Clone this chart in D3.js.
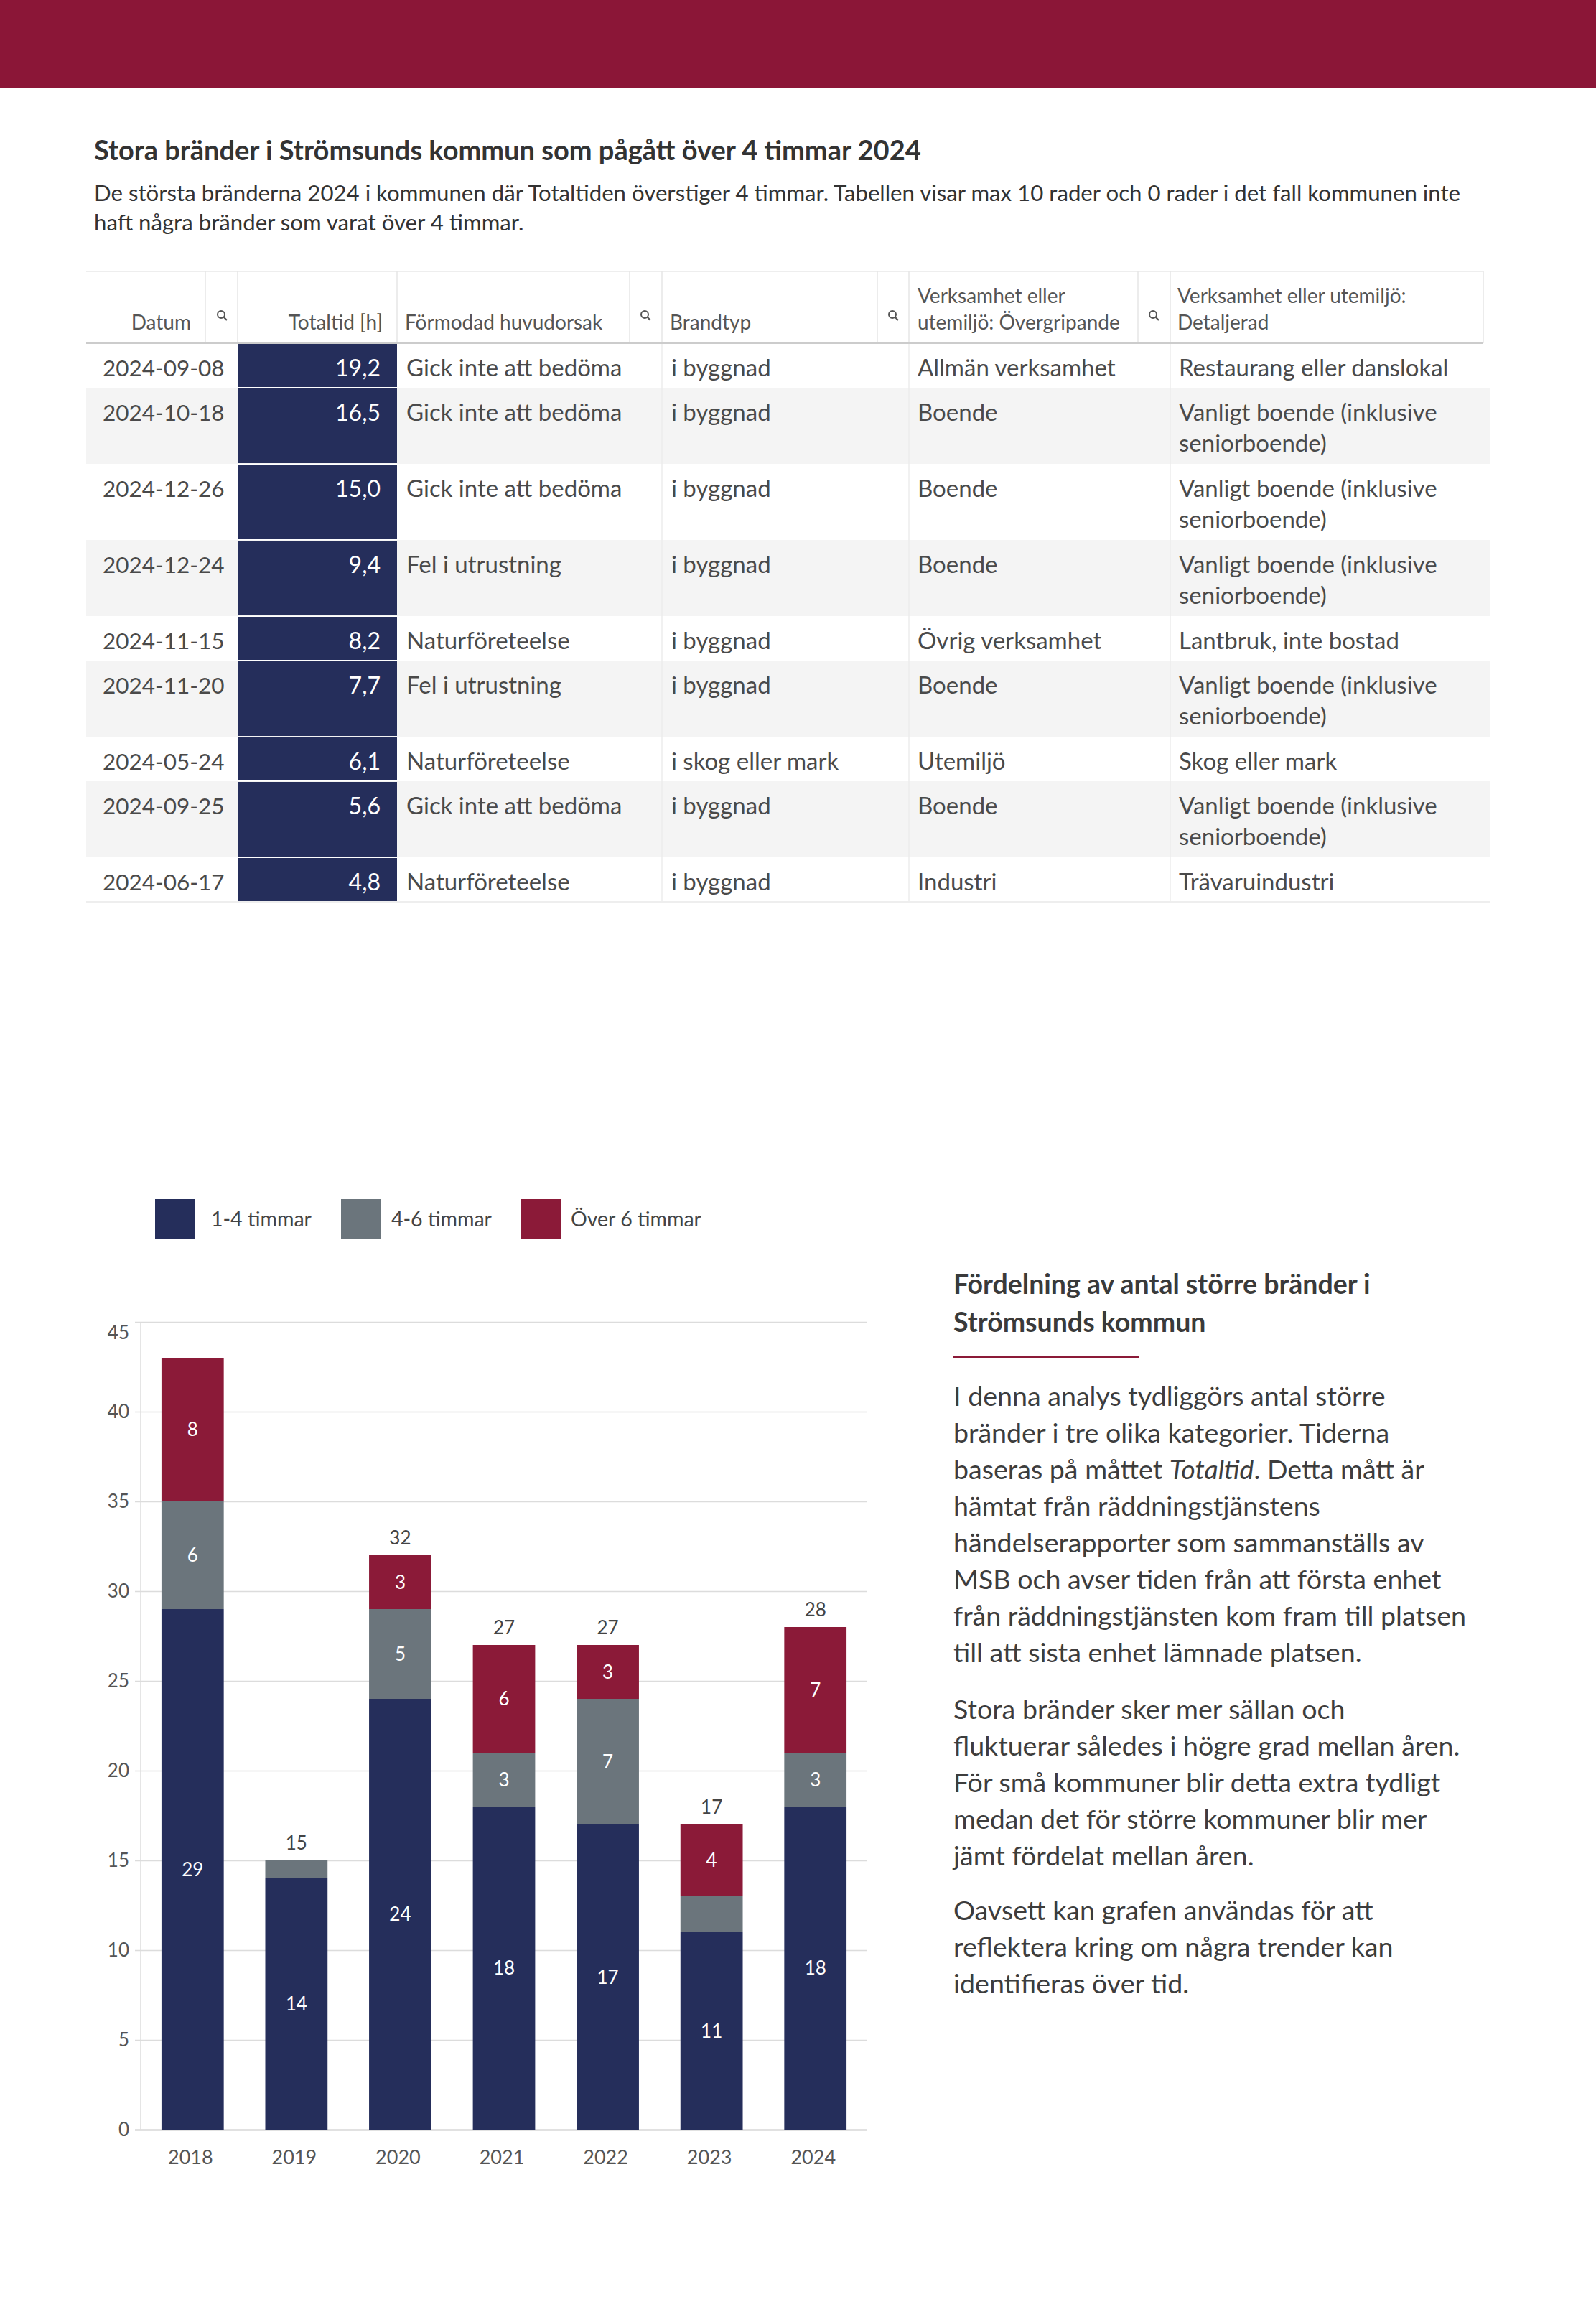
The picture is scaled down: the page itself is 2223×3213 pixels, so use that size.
<!DOCTYPE html>
<html>
<head>
    <meta charset="UTF-8">
    <script src="https://cdn.jsdelivr.net/npm/d3@7"></script>
    <title>Stora bränder i Strömsunds kommun</title>
    <style>
        body { margin: 0; background: #fff; }
        svg text { font-family: Lato, "Open Sans", sans-serif; }
    </style>
</head>
<body>
    <div id="Page"></div>
<script>
    // ---- table data ----
    const datum = ["2024-09-08", "2024-10-18", "2024-12-26", "2024-12-24", "2024-11-15", "2024-11-20", "2024-05-24", "2024-09-25", "2024-06-17"]
    const totaltid = [19.2, 16.5, 15.0, 9.4, 8.2, 7.7, 6.1, 5.6, 4.8]
    const orsak = ["Gick inte att bedöma", "Gick inte att bedöma", "Gick inte att bedöma", "Fel i utrustning", "Naturföreteelse", "Fel i utrustning", "Naturföreteelse", "Gick inte att bedöma", "Naturföreteelse"]
    const brandtyp = ["i byggnad", "i byggnad", "i byggnad", "i byggnad", "i byggnad", "i byggnad", "i skog eller mark", "i byggnad", "i byggnad"]
    const overgripande = ["Allmän verksamhet", "Boende", "Boende", "Boende", "Övrig verksamhet", "Boende", "Utemiljö", "Boende", "Industri"]
    const detaljerad = ["Restaurang eller danslokal", "Vanligt boende (inklusive seniorboende)", "Vanligt boende (inklusive seniorboende)",
        "Vanligt boende (inklusive seniorboende)", "Lantbruk, inte bostad", "Vanligt boende (inklusive seniorboende)",
        "Skog eller mark", "Vanligt boende (inklusive seniorboende)", "Trävaruindustri"]

    // ---- chart data ----
    const years = ["2018", "2019", "2020", "2021", "2022", "2023", "2024"]
    const series = ["1-4 timmar", "4-6 timmar", "Över 6 timmar"]
    const h1to4 = [29, 14, 24, 18, 17, 11, 18]
    const h4to6 = [6, 1, 5, 3, 7, 2, 3]
    const hOver6 = [8, 0, 3, 6, 3, 4, 7]
    const yTicks = [0, 5, 10, 15, 20, 25, 30, 35, 40, 45]

    // ---- texts ----
    const title = "Stora bränder i Strömsunds kommun som pågått över 4 timmar 2024"
    const subtitle = ["De största bränderna 2024 i kommunen där Totaltiden överstiger 4 timmar. Tabellen visar max 10 rader och 0 rader i det fall kommunen inte",
        "haft några bränder som varat över 4 timmar."]
    const heading = ["Fördelning av antal större bränder i", "Strömsunds kommun"]
    const paragraphs = [
        ["I denna analys tydliggörs antal större", "bränder i tre olika kategorier. Tiderna", "baseras på måttet *Totaltid*. Detta mått är",
            "hämtat från räddningstjänstens", "händelserapporter som sammanställs av", "MSB och avser tiden från att första enhet",
            "från räddningstjänsten kom fram till platsen", "till att sista enhet lämnade platsen."],
        ["Stora bränder sker mer sällan och", "fluktuerar således i högre grad mellan åren.", "För små kommuner blir detta extra tydligt",
            "medan det för större kommuner blir mer", "jämt fördelat mellan åren."],
        ["Oavsett kan grafen användas för att", "reflektera kring om några trender kan", "identifieras över tid."]
    ]

    const width = 2223
    const height = 3213
    const navy = "#252e5b", grey = "#6b757c", wine = "#8b1a38"

    const svg = d3.select("#Page")
        .append("svg")
        .attr("width", width)
        .attr("height", height)

    svg.append("rect").attr("width", width).attr("height", height).attr("fill", "#fff")
    svg.append("rect").attr("width", width).attr("height", 122).attr("fill", "#8b1637")

    // hidden text used to measure words when wrapping cells
    const measurer = svg.append("text").attr("visibility", "hidden")
    const textWidth = (str, size) => {
        measurer.attr("font-size", size).text(str)
        return measurer.node().getComputedTextLength()
    }
    const wrap = (str, size, maxW) => {
        let lines = [], cur = ""
        str.split(" ").forEach(w => {
            const t = cur ? cur + " " + w : w
            if (cur && textWidth(t, size) > maxW) { lines.push(cur); cur = w } else cur = t
        })
        lines.push(cur)
        return lines
    }

    // ---- title ----
    svg.append("text")
        .attr("x", 131).attr("y", 223)
        .attr("font-size", 38).attr("font-weight", 700).attr("fill", "#333")
        .text(title)
    svg.selectAll("text.sub")
        .data(subtitle)
        .enter()
        .append("text")
        .attr("class", "sub")
        .attr("x", 131).attr("y", (d, i) => 280 + i * 41)
        .attr("font-size", 31.2).attr("fill", "#333")
        .text(d => d)

    // ---- table ----
    const bodyFont = 33, headFont = 28
    const headTop = 378, headBottom = 478
    const comma = v => v.toFixed(1).replace(".", ",")
    const columns = [
        { values: datum, x0: 120, x1: 331, tx: 143, anchor: "start", size: 31.5, head: ["Datum"], hx: 266, hAnchor: "end", icon: 308 },
        { values: totaltid.map(comma), x0: 331, x1: 553, tx: 530, anchor: "end", size: 32, head: ["Totaltid [h]"], hx: 533, hAnchor: "end", fill: navy, color: "#fff" },
        { values: orsak, x0: 553, x1: 922, tx: 566, anchor: "start", head: ["Förmodad huvudorsak"], hx: 564, hAnchor: "start", icon: 898 },
        { values: brandtyp, x0: 922, x1: 1266, tx: 935, anchor: "start", head: ["Brandtyp"], hx: 933, hAnchor: "start", icon: 1243 },
        { values: overgripande, x0: 1266, x1: 1630, tx: 1278, anchor: "start", head: ["Verksamhet eller", "utemiljö: Övergripande"], hx: 1278, hAnchor: "start", icon: 1606 },
        { values: detaljerad, x0: 1630, x1: 2066, tx: 1642, anchor: "start", head: ["Verksamhet eller utemiljö:", "Detaljerad"], hx: 1640, hAnchor: "start" }
    ]

    const table = svg.append("g")

    // header
    table.append("line").attr("x1", 120).attr("x2", 2066).attr("y1", headTop).attr("y2", headTop)
        .attr("stroke", "#eeeeee").attr("stroke-width", 2)
    const headSeps = [286, 331, 553, 877, 922, 1222, 1266, 1585, 1630, 2066]
    table.selectAll("line.hsep")
        .data(headSeps)
        .enter()
        .append("line")
        .attr("x1", d => d).attr("x2", d => d)
        .attr("y1", headTop).attr("y2", headBottom)
        .attr("stroke", "#e6e6e6").attr("stroke-width", 1.5)

    columns.forEach(col => {
        col.head.forEach((t, i) => {
            table.append("text")
                .attr("x", col.hx)
                .attr("y", 459 - (col.head.length - 1 - i) * 37)
                .attr("text-anchor", col.hAnchor)
                .attr("font-size", headFont).attr("fill", "#555")
                .text(t)
        })
        if (col.icon) {
            const ic = table.append("g").attr("transform", `translate(${col.icon},438)`)
            ic.append("circle").attr("r", 5).attr("fill", "none").attr("stroke", "#555").attr("stroke-width", 2)
            ic.append("line").attr("x1", 3.5).attr("y1", 3.5).attr("x2", 8).attr("y2", 8).attr("stroke", "#555").attr("stroke-width", 2.2)
        }
    })

    // rows: height follows the number of wrapped lines
    const rows = datum.map((d, i) => {
        const cells = columns.map(col => col.anchor === "start"
            ? wrap(col.values[i], col.size || bodyFont, col.x1 - col.tx - 12)
            : [col.values[i]])
        const lines = d3.max(cells, c => c.length)
        return { cells, h: 62 + (lines - 1) * 44 }
    })
    let rowTop = headBottom
    rows.forEach(r => { r.top = rowTop; rowTop += r.h })
    const tableBottom = rowTop

    const rowG = table.selectAll("g.row")
        .data(rows)
        .enter()
        .append("g")
        .attr("class", "row")
        .attr("transform", r => `translate(0,${r.top})`)

    rowG.append("rect")
        .attr("x", 120).attr("width", 2076 - 120)
        .attr("height", r => r.h)
        .attr("fill", (r, i) => i % 2 ? "#f4f4f4" : "#fff")

    rowG.append("rect")
        .attr("x", columns[1].x0).attr("width", columns[1].x1 - columns[1].x0)
        .attr("y", 1).attr("height", r => r.h - 2)
        .attr("fill", navy)

    rowG.each(function (r) {
        const g = d3.select(this)
        columns.forEach((col, ci) => {
            r.cells[ci].forEach((t, li) => {
                g.append("text")
                    .attr("x", col.tx)
                    .attr("y", 46 + li * 43)
                    .attr("text-anchor", col.anchor)
                    .attr("font-size", col.size || bodyFont)
                    .attr("fill", col.color || "#4a4a4a")
                    .text(t)
            })
        })
    })

    table.selectAll("line.bsep")
        .data([922, 1266, 1630])
        .enter()
        .append("line")
        .attr("x1", d => d).attr("x2", d => d)
        .attr("y1", headBottom).attr("y2", tableBottom)
        .attr("stroke", "#ececec").attr("stroke-width", 1.5)
    table.append("line").attr("x1", 120).attr("x2", 2076).attr("y1", tableBottom).attr("y2", tableBottom)
        .attr("stroke", "#eeeeee").attr("stroke-width", 2)
    table.append("line").attr("x1", 120).attr("x2", 2066).attr("y1", headBottom).attr("y2", headBottom)
        .attr("stroke", "#cccccc").attr("stroke-width", 2)

    // ---- stacked bar chart ----
    const plotLeft = 196, plotRight = 1208
    const x = d3.scaleBand()
        .domain(years)
        .range([plotLeft, plotRight])
        .paddingInner(0.4)
        .paddingOuter(0.2)
    const y = d3.scaleLinear()
        .domain([0, 45])
        .range([2966, 1841])
    const color = d3.scaleOrdinal()
        .domain(series)
        .range([navy, grey, wine])

    const stackRows = years.map((yr, i) => ({ year: yr, [series[0]]: h1to4[i], [series[1]]: h4to6[i], [series[2]]: hOver6[i] }))
    const stacked = d3.stack().keys(series)(stackRows)

    const chart = svg.append("g")

    const yAxis = chart.append("g")
        .attr("transform", `translate(${plotRight},0)`)
        .call(d3.axisLeft(y).tickValues(yTicks).tickSize(plotRight - 188).tickPadding(8))
    yAxis.select(".domain").remove()
    yAxis.selectAll(".tick line").attr("stroke", "#dcdcdc").attr("stroke-width", 1.5)
    yAxis.selectAll(".tick").filter(d => d === 0).select("line").attr("stroke", "#c4c4c4").attr("stroke-width", 2)
    yAxis.selectAll(".tick text").attr("font-size", 26).attr("fill", "#555").attr("font-family", null)
    // top label sits a little under its gridline in the original
    yAxis.selectAll(".tick").filter(d => d === 45).select("text").attr("dy", "0.9em")

    chart.append("line")
        .attr("x1", plotLeft).attr("x2", plotLeft)
        .attr("y1", y(45)).attr("y2", y(0))
        .attr("stroke", "#dcdcdc").attr("stroke-width", 1.5)

    const xAxis = chart.append("g")
        .attr("transform", `translate(0,${y(0)})`)
        .call(d3.axisBottom(x).tickSize(0).tickPadding(29))
    xAxis.select(".domain").remove()
    xAxis.selectAll(".tick text").attr("font-size", 27).attr("fill", "#555").attr("font-family", null).attr("dx", -3)

    const layers = chart.selectAll("g.layer")
        .data(stacked)
        .enter()
        .append("g")
        .attr("class", "layer")
        .attr("fill", d => color(d.key))

    layers.selectAll("rect")
        .data(d => d)
        .enter()
        .append("rect")
        .attr("x", d => x(d.data.year))
        .attr("y", d => y(d[1]))
        .attr("width", x.bandwidth())
        .attr("height", d => y(d[0]) - y(d[1]))

    // segment labels only where the segment is tall enough
    layers.selectAll("text")
        .data(d => d.filter(s => s[1] - s[0] >= 3))
        .enter()
        .append("text")
        .attr("x", d => x(d.data.year) + x.bandwidth() / 2)
        .attr("y", d => y((d[0] + d[1]) / 2))
        .attr("dy", "0.35em")
        .attr("text-anchor", "middle")
        .attr("font-size", 26)
        .attr("fill", "#fff")
        .text(d => d[1] - d[0])

    // totals above the bars (the tallest bar has no total in the original)
    const totals = years.map((yr, i) => ({ year: yr, total: h1to4[i] + h4to6[i] + hOver6[i] }))
    chart.selectAll("text.total")
        .data(totals.filter(d => d.total < 40))
        .enter()
        .append("text")
        .attr("class", "total")
        .attr("x", d => x(d.year) + x.bandwidth() / 2)
        .attr("y", d => y(d.total) - 24)
        .attr("dy", "0.35em")
        .attr("text-anchor", "middle")
        .attr("font-size", 26)
        .attr("fill", "#444")
        .text(d => d.total)

    // legend
    const legendX = [216, 475, 725]
    const legend = chart.selectAll("g.legend")
        .data(series)
        .enter()
        .append("g")
        .attr("class", "legend")
        .attr("transform", (d, i) => `translate(${legendX[i]},1670)`)
    legend.append("rect").attr("width", 56).attr("height", 56).attr("fill", d => color(d))
    legend.append("text")
        .attr("x", (d, i) => i === 0 ? 78 : 70).attr("y", 28).attr("dy", "0.35em")
        .attr("font-size", 28.5).attr("fill", "#444")
        .text(d => d)

    // ---- side text ----
    const side = svg.append("g").attr("transform", "translate(1328,0)")
    side.selectAll("text.heading")
        .data(heading)
        .enter()
        .append("text")
        .attr("class", "heading")
        .attr("y", (d, i) => 1802 + i * 53)
        .attr("font-size", 37.5).attr("font-weight", 700).attr("fill", "#3a3a3a")
        .text(d => d)
    side.append("rect").attr("x", -1).attr("y", 1888).attr("width", 260).attr("height", 4).attr("fill", wine)

    const paraStart = [1958, 2394, 2674]
    paragraphs.forEach((lines, p) => {
        lines.forEach((line, li) => {
            const t = side.append("text")
                .attr("y", paraStart[p] + li * 51)
                .attr("font-size", 37.6).attr("fill", "#3d3d3d")
            line.split("*").forEach((part, k) => {
                t.append("tspan").attr("font-style", k % 2 ? "italic" : null).text(part)
            })
        })
    })
</script>
</body>
</html>
